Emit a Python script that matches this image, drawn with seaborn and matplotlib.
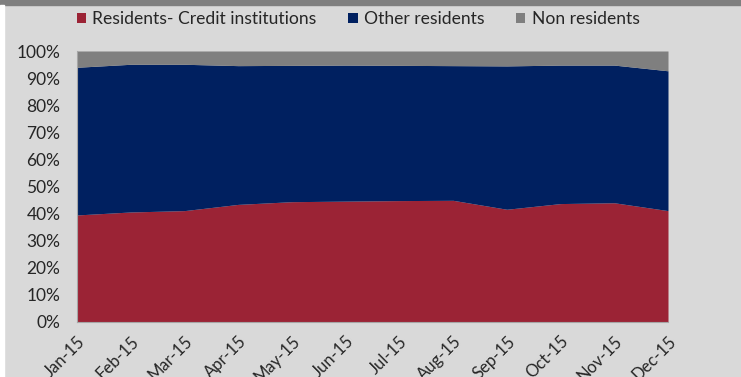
import matplotlib
matplotlib.use("Agg")
import matplotlib.pyplot as plt
import seaborn as sns
import numpy as np
import pandas as pd
from matplotlib.patches import Rectangle

months = ["Jan-15", "Feb-15", "Mar-15", "Apr-15", "May-15", "Jun-15",
          "Jul-15", "Aug-15", "Sep-15", "Oct-15", "Nov-15", "Dec-15"]
credit_institutions = [39.5, 40.6, 41.1, 43.4, 44.4, 44.6, 44.8, 44.9, 41.6, 43.7, 44.0, 41.1]
other_residents = [54.5, 54.5, 54.0, 51.2, 50.3, 50.2, 49.9, 49.7, 52.9, 51.1, 50.8, 51.6]
non_residents = [6.0, 4.9, 4.9, 5.4, 5.3, 5.2, 5.3, 5.4, 5.5, 5.2, 5.2, 7.3]
series_names = ["Residents- Credit institutions", "Other residents", "Non residents"]
colors = ["#9b2335", "#002060", "#7f7f7f"]

df = pd.DataFrame({"month": months,
                   series_names[0]: credit_institutions,
                   series_names[1]: other_residents,
                   series_names[2]: non_residents})

sns.set_theme(style="white")
plt.rcParams["font.family"] = ["Lato", "DejaVu Sans"]

fig = plt.figure(figsize=(7.41, 3.77), dpi=100, facecolor="#d9d9d9")
# frame decorations
fig.patches.append(Rectangle((0, 1 - 5/377), 1, 5/377, transform=fig.transFigure,
                             color="#7f7f7f", zorder=0))
fig.patches.append(Rectangle((0, 0), 4/741, 1 - 5/377, transform=fig.transFigure,
                             color="#ffffff", zorder=0))

ax = fig.add_axes([77/741, 55/377, 591/741, 271/377])
ax.set_facecolor("#d9d9d9")
x = np.arange(len(months))
ax.stackplot(x, df[series_names[0]], df[series_names[1]], df[series_names[2]],
             colors=colors, labels=series_names, linewidth=0)
ax.set_xlim(0, len(months) - 1)
ax.set_ylim(0, 100)
ax.set_yticks(np.arange(0, 101, 10))
ax.set_yticklabels([f"{v}%" for v in range(0, 101, 10)], fontsize=12.5, color="#262626")
ax.set_xticks(x)
ax.set_xticklabels(months, rotation=45, ha="right", rotation_mode="anchor",
                   fontsize=12, color="#262626")
ax.tick_params(axis="both", which="both", direction="out", length=5, width=0.8,
               color="#a6a6a6")
ax.tick_params(axis="y", pad=7)
ax.tick_params(axis="x", pad=3)
sns.despine(ax=ax, top=True, right=True)
for s in ["left", "bottom"]:
    ax.spines[s].set_color("#a6a6a6")
    ax.spines[s].set_linewidth(0.8)

handles, labels = ax.get_legend_handles_labels()
leg = fig.legend(handles, labels, loc="center", bbox_to_anchor=(358/741, 1 - 19/377),
                 ncol=3, frameon=False, fontsize=12.6, handlelength=0.55, handleheight=0.55,
                 handletextpad=0.35, columnspacing=1.8)
for t in leg.get_texts():
    t.set_color("#262626")

fig.savefig("out.png", dpi=100, facecolor=fig.get_facecolor())
